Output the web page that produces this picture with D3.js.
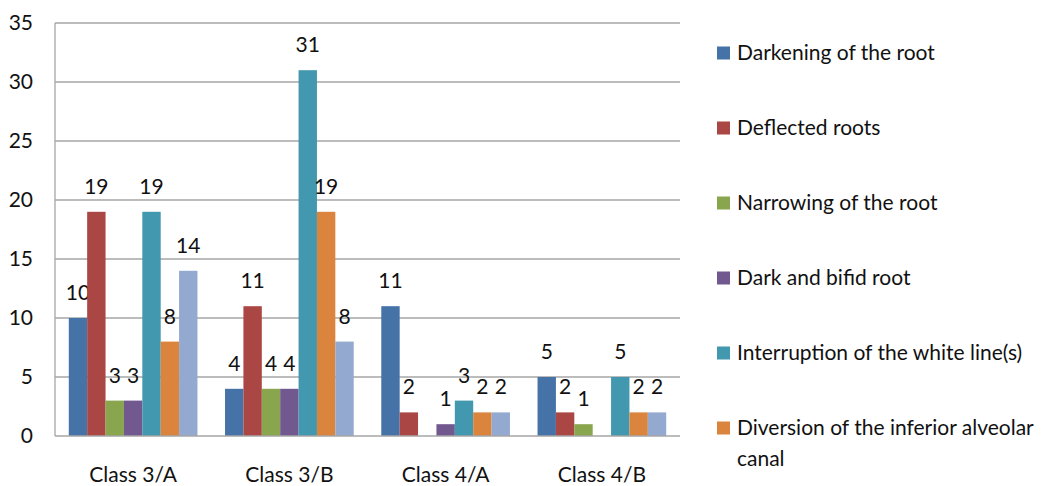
<!DOCTYPE html>
<html><head><meta charset="utf-8">
<script src="https://cdn.jsdelivr.net/npm/d3@7/dist/d3.min.js"></script>
<style>html,body{margin:0;padding:0;background:#fff;overflow:hidden}</style>
</head><body><svg id="c" width="1046" height="486"></svg>
<script>
const categories = ["Class 3/A", "Class 3/B", "Class 4/A", "Class 4/B"];
const seriesNames = [
  "Darkening of the root",
  "Deflected roots",
  "Narrowing of the root",
  "Dark and bifid root",
  "Interruption of the white line(s)",
  "Diversion of the inferior alveolar canal",
  "Narrowing of the inferior alveolar canal"
];
const darkening    = [10, 4, 11, 5];
const deflected    = [19, 11, 2, 2];
const narrowing    = [3, 4, 0, 1];
const darkBifid    = [3, 4, 1, 0];
const interruption = [19, 31, 3, 5];
const diversion    = [8, 19, 2, 2];
const canalNarrow  = [14, 8, 2, 2];
const yTicks = [0, 5, 10, 15, 20, 25, 30, 35];
const colors = ["#4572A7", "#AA4643", "#89A54E", "#71588F", "#4198AF", "#DB843D", "#93A9CF"];
const visibleLegendCount = 6; // the 7th entry lies below the picture's bottom edge

const seriesValues = [darkening, deflected, narrowing, darkBifid, interruption, diversion, canalNarrow];

const svg = d3.select("#c");
const font = "Lato, 'Open Sans', sans-serif";
const fs = 21;
const m = {left: 55, top: 23, right: 680, bottom: 436};

const x0 = d3.scaleBand().domain(categories).range([m.left, m.right]).paddingInner(0).paddingOuter(0);
const bw = x0.bandwidth();
const groupW = bw * 7 / 8.5;
const x1 = d3.scaleBand().domain(d3.range(7)).range([(bw - groupW) / 2, (bw + groupW) / 2]).padding(0);
const y = d3.scaleLinear().domain([0, 35]).range([m.bottom, m.top]);

// gridlines
svg.append("g").selectAll("line").data(yTicks.filter(t => t > 0)).join("line")
  .attr("x1", m.left).attr("x2", m.right)
  .attr("y1", d => y(d)).attr("y2", d => y(d))
  .attr("stroke", "#a6a6a6").attr("stroke-width", 1.3);

// bars
const g = svg.append("g");
seriesValues.forEach((vals, si) => {
  g.append("g").selectAll("rect").data(vals.map((v, ci) => ({v, c: categories[ci]}))).join("rect")
    .attr("x", d => x0(d.c) + x1(si))
    .attr("width", x1.bandwidth())
    .attr("y", d => y(d.v))
    .attr("height", d => y(0) - y(d.v))
    .attr("fill", colors[si]);
  g.append("g").selectAll("text").data(vals.map((v, ci) => ({v, c: categories[ci]})).filter(d => d.v > 0)).join("text")
    .attr("x", d => x0(d.c) + x1(si) + x1.bandwidth() / 2)
    .attr("y", d => y(d.v) - 18)
    .attr("text-anchor", "middle")
    .attr("font-family", font).attr("font-size", fs).attr("fill", "#111")
    .text(d => d.v);
});

// axes lines
svg.append("line").attr("x1", m.left).attr("x2", m.left).attr("y1", m.top).attr("y2", m.bottom)
  .attr("stroke", "#a6a6a6").attr("stroke-width", 1.3);
svg.append("line").attr("x1", m.left).attr("x2", m.right).attr("y1", m.bottom).attr("y2", m.bottom)
  .attr("stroke", "#a6a6a6").attr("stroke-width", 1.3);

// y tick labels
svg.append("g").selectAll("text").data(yTicks).join("text")
  .attr("x", 33).attr("y", d => y(d)).attr("dy", "0.35em")
  .attr("text-anchor", "end")
  .attr("font-family", font).attr("font-size", fs).attr("fill", "#111")
  .text(d => d);

// x labels
svg.append("g").selectAll("text").data(categories).join("text")
  .attr("x", d => x0(d) + bw / 2).attr("y", 482)
  .attr("text-anchor", "middle")
  .attr("font-family", font).attr("font-size", fs).attr("fill", "#111")
  .text(d => d);

// legend
const lg = svg.append("g");
seriesNames.slice(0, visibleLegendCount).forEach((name, i) => {
  const cy = 53 + i * 75;
  lg.append("rect").attr("x", 717).attr("y", cy - 6.5).attr("width", 13).attr("height", 13).attr("fill", colors[i]);
  const t = lg.append("text").attr("x", 737).attr("y", cy).attr("dy", "0.35em")
    .attr("font-family", font).attr("font-size", fs).attr("fill", "#111");
  if (name.length > 34) {
    const parts = name.split(" ");
    t.append("tspan").text(parts.slice(0, -1).join(" "));
    t.append("tspan").attr("x", 737).attr("dy", "1.45em").text(parts[parts.length - 1]);
  } else {
    t.text(name);
  }
});
</script></body></html>
